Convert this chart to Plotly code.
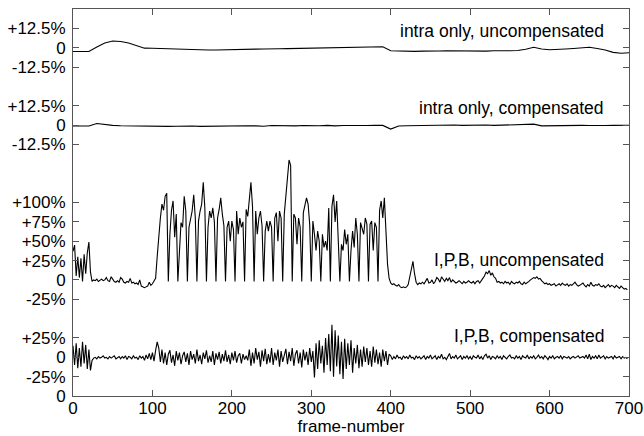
import plotly.graph_objects as go

# ---------------- data (percent deviation per frame) ----------------
frames_intra = list(range(0, 701, 10))
intra_uncomp = [
    -2.5, -2.6, -2.5, 0.5, 3.0, 4.3, 4.0, 3.0, 1.2, -0.3,
    -0.4, -0.6, -0.7, -0.9, -1.0, -1.2, -1.6, -1.5, -1.5, -1.3,
    -1.2, -1.0, -1.1, -0.9, -0.8, -0.9, -0.7, -0.6, -0.5, -0.6,
    -0.4, -0.3, -0.2, 0.0, 0.1, 0.2, 0.3, 0.5, 0.6, 0.6,
    -2.0, -2.2, -2.5, -2.4, -2.2, -2.3, -2.1, -2.0, -2.1, -2.0,
    -1.9, -2.0, -2.2, -2.0, -2.1, -2.0, -1.8, -1.0, 0.3, -0.8,
    -1.3, -1.2, -0.8, -0.5, -0.2, 0.3, -0.5, -1.5, -3.0, -3.6,
    -3.3,
]
intra_comp = [
    -0.6, -0.7, -0.6, 1.0, 0.3, -0.2, -0.4, -0.5, -0.6, -0.8,
    -0.7, -0.6, -0.8, -0.7, -0.5, -0.6, -0.8, -0.7, -0.5, -0.4,
    -0.5, -0.6, -0.4, -0.5, -0.7, -0.3, -0.4, -0.6, -0.5, -0.3,
    -0.5, -0.4, -0.2, -0.5, -0.3, -0.4, -0.2, -0.3, -0.1, -0.2,
    -2.6, -0.6, -0.4, -0.3, -0.1, -0.2, 0.0, -0.1, 0.1, -0.2,
    0.0, -0.1, 0.1, -0.2, -0.1, 0.0, 0.1, 0.2, 0.6, -0.5,
    -0.4, -0.2, -0.3, -0.1, -0.2, -0.3, -0.5, -0.3, -0.2, -0.1,
    -0.1,
]

frames_ipb = list(range(0, 700, 2))
ipb_uncomp = [
    37, 45, 5, 30, 3, 28, -2, 33, 8, 35,
    49, 10, -2, 0, -1, 1, -2, 0, 1, -1,
    0, 3, -1, -2, 4, 1, -2, -3, -1, -3,
    3, 1, -3, -4, -2, -3, 2, -4, -3, -5,
    -4, -6, 0, -8, -9, -10, -9, -8, -3, -7,
    -5, -2, 2, 30, 62, 80, 98, 90, 108, 112,
    -2, 59, 90, 102, 55, 85, -2, 46, 74, 68,
    108, 89, -2, 68, 80, 89, 110, 80, -2, 76,
    89, 98, 126, 93, -2, 68, 89, 80, 93, 75,
    -2, 80, 91, 106, 85, 70, -2, 68, 76, 50,
    76, 65, -2, 89, 59, 80, 68, 75, -2, 91,
    82, 110, 126, 95, -2, 89, 59, 80, 89, 70,
    -2, 63, 76, 63, 76, 68, -2, 80, 87, 50,
    89, 80, -2, 85, 110, 140, 155, 148, -2, 85,
    80, 46, 80, 68, -2, 87, 98, 106, 98, 72,
    -2, 76, 59, 38, 63, 50, -2, 59, 42, 50,
    38, 93, -2, 95, 110, 75, 102, 40, -2, 46,
    38, 65, 46, 59, -2, 38, 63, 42, 80, 59,
    -2, 74, 68, 59, 80, 72, -2, 72, 76, 38,
    74, 68, -2, 90, 102, 80, 106, 60, 20, 2,
    -4, -6, -5, -7, -8, -6, -9, -10, -9, -10,
    -9, -6, 3, 12, 24, 8, -3, -6, -4, -5,
    -3, -5, -2, 2, -4, -3, 0, -5, -2, 3,
    1, -3, 4, 0, -2, 2, -1, 3, -3, 0,
    -2, -4, -3, -1, -3, -5, -2, -4, -3, -1,
    -3, -4, -2, -5, -2, -1, -4, 0, 2, 5,
    10, 8, 12, 6, 9, 4, 2, -3, -2, -4,
    -3, -5, -2, -4, -3, -6, -2, -4, -5, -3,
    -4, -2, -5, -6, -3, -5, -4, -2, 0, 1,
    3, 2, 4, 1, 2, -1, -3, -5, -4, -6,
    -5, -7, -6, -5, -8, -6, -5, -7, -4, -6,
    -7, -5, -8, -6, -7, -5, -3, -6, -8, -7,
    -6, -4, -7, -9, -6, -8, -3, -7, -8, -6,
    -7, -5, -8, -9, -7, -10, -8, -6, -9, -7,
    -8, -10, -7, -9, -11, -8, -10, -12, -11, -13,
]
ipb_comp = [
    15, -10, 18, -14, 12, -12, 20, -8, 16, -15,
    10, -17, -4, -1, 0, -2, 1, -1, 0, 2,
    -1, 0, -2, 1, -1, 0, 2, -2, 0, 1,
    -2, 1, -1, 2, -3, 1, 0, -2, 2, -1,
    0, -3, 2, -1, 1, -4, 3, -2, 5, -3,
    6, -5, 9, 20, 12, -6, 10, -8, 6, -10,
    4, 9, -7, 3, -11, 8, -4, 6, -9, 2,
    7, -6, 5, -10, 8, -3, 4, -8, 10, -5,
    3, -9, 6, -2, 9, -7, 2, -6, 8, -10,
    5, -3, 7, -8, 4, -5, 9, -6, 3, -9,
    6, -4, 8, -7, 2, 5, -8, 4, -3, 2,
    -4, 10, -11, 6, -8, 12, -3, 7, -12, 9,
    -5, 11, -9, 4, -7, 12, -10, 6, -4, 10,
    -12, 8, -6, 3, 11, -9, 7, -5, 12, -11,
    4, 9, -8, 6, -13, 10, -4, 7, -10, 12,
    -6, 8, -26, 18, -15, 22, -8, 15, -20, 25,
    -10, 30, -18, 42, -25, 35, -12, 28, -22, 20,
    -28, 24, -15, 18, -10, 22, -20, 12, -8, 16,
    -14, 10, -12, 14, -6, 12, -10, 8, -12, 14,
    -7, 10, -9, 6, -12, 10, -5, 8, -10, 4,
    2, -3, 1, -2, 3, -1, 0, -3, 2, -1,
    1, -2, 3, -1, 0, -3, 2, -1, 1, -2,
    0, 2, -3, 1, -1, 3, -2, 0, 2, -3,
    1, -1, 4, -2, 0, -3, 2, 5, -2, 1,
    -1, 3, -2, 0, 2, -3, 1, -1, 2, -2,
    1, -3, 2, 0, -1, 3, -2, 1, -3, 2,
    4, -1, 2, -3, 1, 0, -2, 2, -1, 1,
    -3, 2, 0, -2, 1, 3, -1, 0, -2, 2,
    -1, 1, -3, 2, 0, -1, 3, -2, 1, -1,
    2, -2, 0, 3, -1, 1, -2, 2, 0, -3,
    1, -1, 2, -2, 0, 1, -1, 2, -2, 1,
    0, -1, 1, -2, 0, 1, -1, 0, 2, -1,
    0, 1, -1, 3, -2, 4, -3, 1, -1, 2,
    -2, 3, -1, 0, 2, -2, 1, -1, 0, 1,
    -2, 2, -1, 0, 1, -2, 1, -1, 0, -2,
]

labels = ["intra only, uncompensated", "intra only, compensated",
          "I,P,B, uncompensated", "I,P,B, compensated"]

ytick_vals = [0, 1, 2, 3, 5, 6, 7, 8, 9, 10, 13, 14, 15, 17, 18, 19]
ytick_text = ["0", "-25%", "0", "+25%", "-25%", "0", "+25%", "+50%", "+75%",
              "+100%", "-12.5%", "0", "+12.5%", "-12.5%", "0", "+12.5%"]
xtick_vals = [0, 100, 200, 300, 400, 500, 600, 700]

# ---------------- layout of the stacked panels ----------------
series = [
    (frames_intra, intra_uncomp, 18, 12.5, 18.86),
    (frames_intra, intra_comp, 14, 12.5, 14.88),
    (frames_ipb, ipb_uncomp, 6, 25.0, 7.03),
    (frames_ipb, ipb_comp, 2, 25.0, 3.1),
]

FONT = "Liberation Sans, Arial, Helvetica, sans-serif"
fig = go.Figure()
for (xs, vals, off, scale, _), name in zip(series, labels):
    fig.add_trace(go.Scatter(
        x=xs, y=[off + v / scale for v in vals], mode="lines",
        line=dict(color="black", width=1.1), name=name, showlegend=False,
        hoverinfo="skip"))

for (_, _, _, _, ly), name in zip(series, labels):
    fig.add_annotation(x=671, y=ly, text=name, showarrow=False,
                       xanchor="right", yanchor="middle",
                       font=dict(family=FONT, size=17.5, color="black"))

axis_common = dict(showgrid=False, zeroline=False, showline=True, mirror="ticks",
                   linecolor="#555", linewidth=1, ticks="inside", ticklen=6,
                   tickcolor="#555", tickwidth=1, automargin=False,
                   tickfont=dict(family=FONT, size=17, color="black"))

fig.update_xaxes(range=[0, 700], tickvals=xtick_vals,
                 ticktext=[str(v) for v in xtick_vals],
                 ticklabelstandoff=-3,
                 title=dict(text="frame-number", standoff=0,
                            font=dict(family=FONT, size=17, color="black")),
                 **axis_common)
fig.update_yaxes(range=[0, 20], tickvals=ytick_vals, ticktext=ytick_text,
                 ticklabelstandoff=3, **axis_common)

fig.update_layout(width=644, height=436, plot_bgcolor="white", paper_bgcolor="white",
                  margin=dict(l=73, r=15, t=9, b=40, autoexpand=False))
fig.write_html("out.html", config={"displayModeBar": False},
               post_script="document.body.style.margin='0';document.body.style.overflow='hidden';")
